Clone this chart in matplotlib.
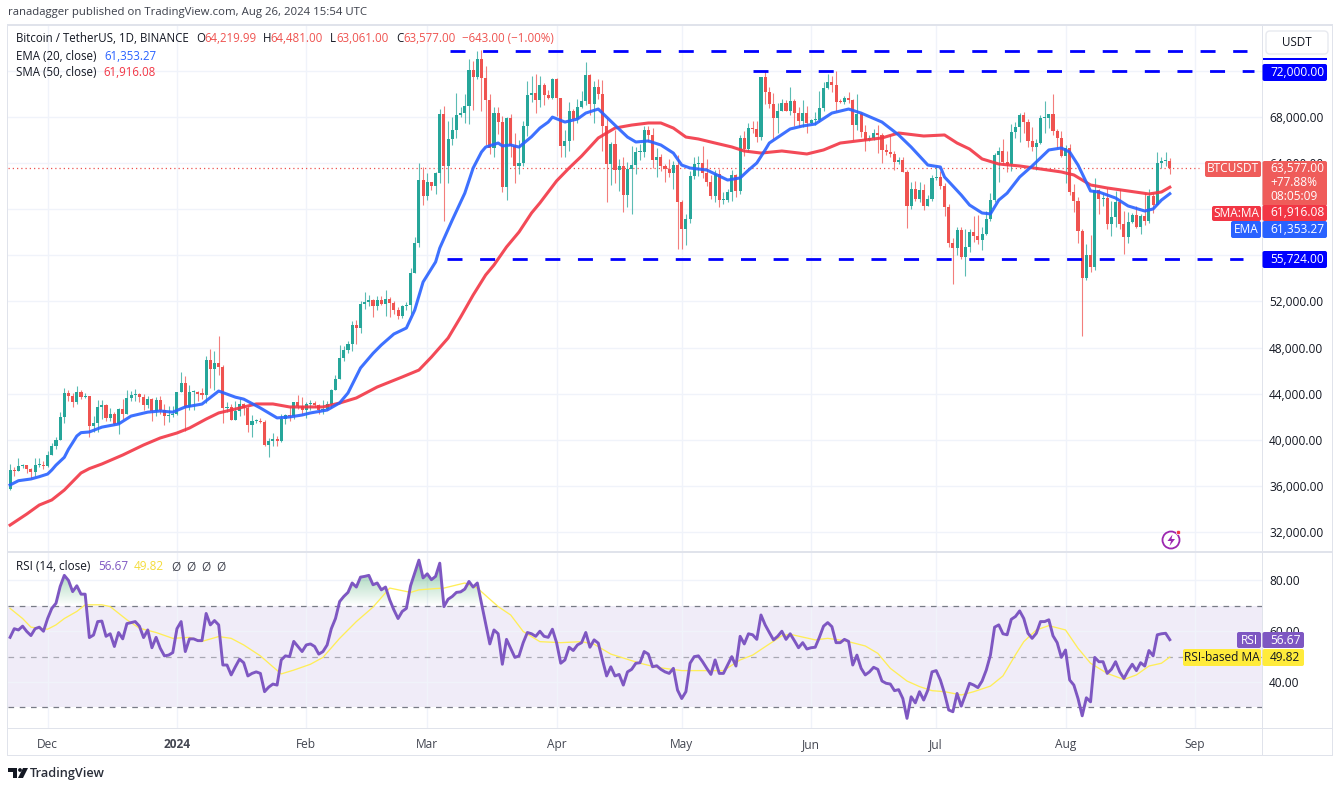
import numpy as np
import matplotlib
matplotlib.use("Agg")
import matplotlib.pyplot as plt
from matplotlib.patches import Rectangle, FancyBboxPatch, Polygon, Circle
from matplotlib.colors import to_rgb
from matplotlib.path import Path

opens = [35750,37410,37290,37720,37795,37480,37240,37830,37855,
37710,38680,39460,39970,41980,44080,43770,43290,44170,43720,43790,41240,41450,42880,43020,41930,42240,41360,42660,42270,43660,43860,43990,43730,43010,43580,42520,43440,42580,42070,42140,
42280,44180,44950,42850,44150,44160,43970,43930,46950,46110,46630,46340,42780,42840,41730,42510,43140,42770,41260,41620,41670,41550,39510,39880,40080,39930,41810,42120,42030,43300,42940,
42580,43080,43190,42990,42580,42660,43090,44340,45290,47130,47750,48290,49960,49700,51810,51930,52120,51640,52140,51780,52260,51850,51300,50740,51570,51730,54480,57040,62500,
61130,62390,62030,63130,68240,63780,66070,66850,68170,68360,68950,72100,71450,73070,71390,69500,65300,68390,67600,61930,67910,65490,63780,64040,67220,69960,70060,69450,70780,69900,69640,
71290,69650,65460,65960,68500,67830,68900,69360,71620,69150,70640,70010,67190,63920,65660,63420,63790,61280,63470,63820,64940,64940,66840,66410,64290,64500,63770,63460,63110,63840,
60670,58320,59120,62890,63890,64030,63160,62330,61190,63070,60790,60820,61480,62940,61580,66200,65230,67050,66940,66270,71450,70140,69120,67930,68530,69260,68500,69390,68360,67630,68360,
67490,67710,67750,68800,70560,71080,70790,69350,69300,69650,69510,67320,68240,66750,66000,66190,66640,66490,65170,64960,64830,64100,64260,63210,60280,61800,60860,61680,60320,60890,
62680,62770,62020,60200,57040,56630,58230,55860,56710,58040,57720,57340,57890,59200,60800,64720,65040,64090,63970,66700,67150,68160,67570,65930,65370,65780,67900,67900,68250,66780,66190,
64620,65350,61490,60700,58160,54020,56030,55030,61700,60880,60940,58710,59350,60600,58730,57560,58880,59500,58440,59450,59020,61150,60380,64040,64220,64220]

closes = [37410,37290,37720,37795,37480,37240,37830,37855,37710,
38680,39460,39970,41980,44080,43770,43290,44170,43720,43790,41240,41450,42880,43020,41930,42240,41360,42660,42270,43660,43860,43990,43730,43010,43580,42520,43440,42580,42070,42140,42280,
44180,44950,42850,44150,44160,43970,43930,46950,46110,46630,46340,42780,42840,41730,42510,43140,42770,41260,41620,41670,41550,39510,39880,40080,39930,41810,42120,42030,43300,42940,42580,
43080,43190,42990,42580,42660,43090,44340,45290,47130,47750,48290,49960,49700,51810,51930,52120,51640,52140,51780,52260,51850,51300,50740,51570,51730,54480,57040,62500,61130,
62390,62030,63130,68240,63780,66070,66850,68170,68360,68950,72100,71450,73070,71390,69500,65300,68390,67600,61930,67910,65490,63780,64040,67220,69960,70060,69450,70780,69900,69640,71290,
69650,65460,65960,68500,67830,68900,69360,71620,69150,70640,70010,67190,63920,65660,63420,63790,61280,63470,63820,64940,64940,66840,66410,64290,64500,63770,63460,63110,63840,60670,
58320,59120,62890,63890,64030,63160,62330,61190,63070,60790,60820,61480,62940,61580,66200,65230,67050,66940,66270,71450,70140,69120,67930,68530,69260,68500,69390,68360,67630,68360,67490,
67710,67750,68800,70560,71080,70790,69350,69300,69650,69510,67320,68240,66750,66000,66190,66640,66490,65170,64960,64830,64100,64260,63210,60280,61800,60860,61680,60320,60890,62680,
62770,62020,60200,57040,56630,58230,55860,56710,58040,57720,57340,57890,59200,60800,64720,65040,64090,63970,66700,67150,68160,67570,65930,65370,65780,67900,67900,68250,66780,66190,64620,
65350,61490,60700,58160,54020,56030,55030,61700,60880,60940,58710,59350,60600,58730,57560,58880,59500,58440,59450,59020,61150,60380,64040,64220,64220,63577]

highs = [37890,37670,38420,37890,37840,37590,38380,38450,38150,
38990,39700,40220,42420,44490,44300,44050,44700,44360,44040,43800,42100,43430,43420,43090,42730,42430,42770,43500,44280,44240,44390,44020,43940,43800,43600,43680,43790,43120,42900,42900,
44180,45880,45500,44730,44350,44230,44480,47250,47900,47700,48970,46500,43260,43080,43400,43570,43200,42930,42130,41820,41870,41680,40130,40550,40350,42220,42200,42840,43300,43880,43740,
43300,43420,43380,43120,43490,43400,44380,45610,48200,48170,48590,50330,50360,52040,52820,52570,52250,52480,52480,52980,52360,52040,51540,51700,51960,54900,57580,64000,63680,
63150,62400,63230,68700,69000,67640,67980,70080,68900,70000,73000,72900,73750,73780,72420,70040,68900,68900,68100,68030,68240,66650,65970,67620,71150,71560,71770,71600,71000,70350,71370,
71370,69680,66900,69300,68700,69600,70300,72800,71750,71170,71300,71250,67930,65840,66870,64370,64500,64130,65450,65400,65700,67230,67200,67070,65290,64800,63900,64370,64230,64730,
60780,59600,63320,64500,64650,65500,64400,63000,63400,63460,61500,61800,63450,63100,66450,66800,67450,67700,67690,71500,71970,70630,70050,69200,69560,69500,70600,69560,68900,69500,69000,
67850,68450,70300,71060,71750,71600,72000,69570,69850,70150,69560,69980,68450,67300,66450,66980,67300,66580,65700,66480,65060,64500,64550,63370,62400,62480,62400,62180,61200,63000,
63800,63300,62250,60500,57500,58500,58450,58250,58300,59460,59500,58500,59850,61400,64900,65400,66100,65100,67400,67600,68350,68480,67800,67100,66100,68200,69400,68300,70000,67000,66800,
65590,65700,62200,61100,58300,57000,57800,62700,61800,61450,61850,60700,61600,61800,59850,59800,59700,60250,59600,61400,61800,61400,64950,64500,65000,64481]

lows = [35630,36870,37250,37560,37150,36720,36880,37600,37500,
37620,38650,39190,39970,41420,43340,42820,43080,43580,43590,40220,40680,40670,41800,41660,41620,41260,40520,41800,42200,43330,43400,43290,42600,42770,41630,42090,42280,41300,41520,41960,
42180,44150,40750,42620,42620,43400,43570,43200,44500,44300,45600,41500,42440,41720,41720,42050,42190,40680,40280,41430,41500,39430,38500,39480,39500,39770,41400,41620,41800,42680,42270,
41880,42580,42880,42220,42260,42570,42780,44320,45240,46800,47540,47710,48300,49250,51310,51620,50620,51240,51700,50780,50620,50940,50500,50580,51280,50900,54440,56700,60400,
60780,61660,61320,62300,59000,62300,65550,66150,68000,67500,67400,68600,71300,68500,65600,64800,64500,66550,61500,60770,64530,62260,63060,63800,66380,69280,68360,68900,69050,69560,69560,
68060,64500,64500,65060,66000,67450,68750,69040,68200,67500,69550,65100,60660,62130,62300,61600,59770,60170,59600,63100,64250,64550,65800,63600,62800,63300,62400,62800,61800,56550,
56550,56900,58850,62600,62900,62700,62000,60900,60630,60200,60500,60630,60750,61100,61300,64600,65100,66600,65850,66050,69150,68800,66100,66600,68500,68500,68200,67200,67100,67130,66600,
67400,67300,67600,68560,70400,70150,68500,69200,69100,69200,66050,66900,66300,65050,65900,66000,64900,64050,64700,64530,63400,63900,63200,58400,60000,60700,60600,59900,60270,60680,
62500,61800,59400,56770,53500,56000,55720,54250,56300,57150,56950,56500,57770,59000,60630,62400,63900,63200,63300,66200,65800,66600,65400,65100,63400,65700,66650,67050,66450,65300,64500,
62300,61200,59800,57100,49000,53900,54550,54750,59550,60250,58300,57650,58500,58300,56150,57100,58800,58400,57850,58600,58800,59700,60350,63600,63800,63061]

ema_days = [0,2,5,7,9,10,11,13,14,15,16,17,19,22,26,29,33,36,39,42,46,50,54,56,60,64,67,70,72,76,79,81,84,87,89,92,95,97,99,102,103,106,109,111,113,114,117,118,120,122,125,127,129,130,133,136,138,141,143,145,148,150,153,156,159,161,163,167,170,172,175,177,179,181,182,187,190,193,197,201,204,209,213,216,220,223,224,228,230,233,235,237,239,242,245,249,252,254,256,259,261,265,268,272,274,276,278]
ema_vals = [36080,36450,36600,36800,37030,37380,37800,38480,39180,39750,40330,40620,40680,41100,41370,42060,42400,42500,42400,42850,43100,44230,43700,43530,42760,41900,41980,42150,42330,42580,43200,44060,46230,47500,48230,49180,49700,51260,53690,55430,56640,59070,61400,63580,64970,65400,65750,65500,65580,65400,66300,67050,67570,68000,67570,67830,68350,68700,68000,67300,66270,65840,65930,65580,64880,63840,63580,63410,62890,62540,62720,63400,64020,65150,65750,66970,67230,67400,68350,68700,68350,67570,66450,65400,63840,63670,62800,61240,60370,59680,59600,60800,61400,62800,63760,65150,65320,64970,63840,61590,61500,60980,60290,59850,60030,60800,61353]

sma_days = [0,4,7,10,13,17,19,22,27,32,36,40,43,47,50,54,59,63,67,71,75,79,83,88,94,98,101,105,108,111,114,116,119,122,125,127,131,134,137,141,145,149,153,156,159,162,165,169,173,176,180,185,191,195,199,203,209,213,219,224,227,230,233,237,242,247,252,255,259,263,268,273,276,278]
sma_vals = [32600,33560,34340,34780,35640,37120,37500,37900,38680,39550,40160,40590,41020,41800,42330,42670,43110,43110,42850,42850,42850,43190,43630,44580,45450,46050,47180,48830,50650,52560,54300,55170,56730,58030,59680,60550,62460,63580,64620,66190,67050,67310,67490,67490,67050,66270,66100,65750,65410,65060,64880,65060,64800,65150,65750,65930,66190,66620,66360,66450,65750,65230,64370,63930,63760,63500,63240,62980,62110,61850,61590,61330,61500,61916]

rsi_vals = [57.6,61,60.5,62,59.9,58.3,61,61.6,60,65,69,71,77.6,82,80,75.6,77.9,74.6,74.6,57.5,58.5,63.8,64,58,59,54,59.5,57,63,63.4,63.8,62,57.5,60.5,53.5,57.6,53.3,50.3,50.6,51.6,
61,63.8,52,57,57,56.3,56.3,67,62.5,64.2,62.5,46.7,46.7,42.8,46,49,47.6,42.4,43.4,44,43.4,36.2,38,39.2,38.8,48.7,50.3,50,56,54,52,54.6,55,54,51,52,54.6,61,65,71.7,73.7,75.3,79,77.4,81.3,81.6,82,78.3,79,76.3,77.4,72.4,68.4,65,67.8,69,77.9,83,88,81,82.6,80.3,81.6,86.8,
69.7,72.6,73.7,75.3,75.5,76.6,79.6,77.4,79,71,63,55,60.5,59,47,56.8,53.3,49.7,50.3,55.5,59.5,59,58,60,58,57.6,60.8,55.5,47.4,48.7,53.7,52.4,54.6,55.5,59.5,53.7,56.6,55.3,48.7,42.4,46,42.4,43,38.8,44,45,47.4,47.6,52,51,46,46.4,45,44,43.4,45.4,36.8,33.5,36.2,47.4,50,50.3,48,45.4,43,48.7,43.4,43.4,46.7,50,46.3,58,55,59,58.6,56.8,66.4,62.5,59.5,56.6,58,60,56.8,59,56.3,53.5,55.5,53,53.5,53.7,57.6,62,63.4,61.8,55.5,55.5,56.8,56,46.7,50.6,45.4,42.8,44,
45.8,45,40.4,39.5,39.2,36.6,37,33.5,25.7,34.2,31.8,36.2,32.9,36.8,44,44.5,40.8,35.5,29,28.3,35.5,30.5,34.9,39.5,38.8,37.8,40.4,44.7,50.6,61.6,62.5,59,58.6,64.7,65.8,68,65,59.2,57.2,59.2,63.8,63.8,64.5,58.2,55.5,49.7,52.6,40.8,38.8,33.5,26.7,33.8,32.2,49.7,48,48,43.4,45,48,44,41.4,44.5,47,44.5,47.6,46.3,52.4,50.3,58.6,59,59.2,56.67]

rsi_ma_days = [0,3,5,9,11,13,16,18,22,24,28,31,35,39,43,46,50,53,56,60,63,65,68,72,75,79,83,87,91,96,98,102,104,109,112,117,120,123,127,132,137,140,144,151,155,161,166,171,175,178,181,185,187,193,196,200,205,208,211,215,218,221,224,228,231,235,238,241,243,246,249,253,256,259,263,267,270,273,276,278]
rsi_ma_vals = [69,65,61.6,60.8,62.5,65,67.8,70.4,70.4,69.7,64.5,61.2,59.5,57.2,57.6,56,57.9,57.2,54.6,50.3,46,43.2,44.7,47,49.7,57.2,63.8,69.5,77,75.3,76.3,76.8,77,79,77,69.7,66.4,59.9,55.9,55.5,55.9,54.9,51,47.4,45.8,44.5,44.5,44.5,48.7,50.6,53.9,58.2,58.8,56.6,57.2,56.3,54.2,51.3,45.4,40.4,38.2,36.6,36.2,34.9,36.2,38.4,42.4,50.7,55.9,60.5,62.2,60.5,53.3,47.4,43.4,41,42.8,46.3,47.4,49.82]

price_ticks = [32000,36000,40000,44000,48000,52000,56000,60000,64000,68000,72000]
price_hidden = [60000,72000]
rsi_ticks = [40,60,80]
month_days = [9,40,71,100,131,161,192,222,253,284]
month_labels = ["Dec","2024","Feb","Mar","Apr","May","Jun","Jul","Aug","Sep"]
resistance_upper = 73720
resistance = 72000
support = 55724
last_close = 63577

UP, DOWN = "#26A69A", "#EF5350"
BLUE, RED = "#2962FF", "#F23645"
PURPLE, YEL = "#7E57C2", "#FFEB3B"
GRID = "#F0F3FA"
FRAME = "#E0E3EB"
TXT = "#131722"
plt.rcParams["font.family"] = ["Open Sans", "DejaVu Sans"]
W, H = 1339, 785
fig = plt.figure(figsize=(W/100, H/100), dpi=100, facecolor="white")

def axes_px(l, t, r, b, **kw):
    return fig.add_axes([l/W, 1-b/H, (r-l)/W, (b-t)/H], **kw)

ax = axes_px(8, 26, 1262, 551)
ar = axes_px(8, 552, 1262, 728)
xmin, xmax = -0.5, 300.1
for a in (ax, ar):
    a.set_xlim(xmin, xmax)
    for s in a.spines.values():
        s.set_visible(False)
    a.set_axisbelow(True)
    a.grid(True, color=GRID, lw=1)
    a.yaxis.tick_right()
    a.tick_params(length=0, labelsize=8.6, labelcolor=TXT, pad=5.2)
    a.set_xticks(month_days)
ax.set_ylim(30351, 75905)
ar.set_ylim(21.9, 91.2)
ax.set_yticks(price_ticks)
ax.set_yticklabels(["" if p in price_hidden else f"{p:,.2f}" for p in price_ticks])
ax.tick_params(axis="x", labelbottom=False)
ar.set_yticks(rsi_ticks)
ar.set_yticklabels([f"{p:.2f}" for p in rsi_ticks])
ar.set_xticklabels(month_labels)
ar.tick_params(axis="x", pad=7, labelcolor="#434651")
ar.get_xticklabels()[1].set_fontweight("bold")

# candles
days = np.arange(len(closes))
o, h, l, c = map(np.array, (opens, highs, lows, closes))
cols = np.where(c >= o, UP, DOWN)
ax.vlines(days, l, h, colors=cols, lw=0.8, alpha=0.75, zorder=3)
body = np.maximum(np.abs(c - o), 90)
ax.bar(days, body, bottom=np.minimum(o, c), width=0.74, color=cols, lw=0, zorder=4)

ax.plot(sma_days, sma_vals, color=RED, lw=2.2, zorder=5, solid_joinstyle="round", alpha=0.9)
ax.plot(ema_days, ema_vals, color=BLUE, lw=2.2, zorder=6, solid_joinstyle="round", alpha=0.9)
ax.plot([xmin, 285], [last_close]*2, color=DOWN, lw=0.9, ls=(0, (1, 2.4)), zorder=2)

dash = (0, (5.4, 6.34))
ax.plot([105.5, 296.4], [resistance_upper]*2, color="#0000FF", lw=2, ls=dash, dash_capstyle="butt", zorder=7)
ax.plot([178.0, 298.3], [resistance]*2, color="#0000FF", lw=2, ls=dash, dash_capstyle="butt", zorder=7)
ax.plot([104.8, 295.5], [support]*2, color="#0000FF", lw=2, ls=dash, dash_capstyle="butt", zorder=7)

# RSI
ar.axhspan(30, 70, color=PURPLE, alpha=0.11, lw=0, zorder=0)
for lvl, al in ((70, 1), (50, 0.6), (30, 1)):
    ar.axhline(lvl, color="#787B86", lw=0.9, ls=(0, (4.5, 4.5)), alpha=al, zorder=1)
rd = np.arange(len(rsi_vals))
rsi = np.array(rsi_vals)

def grad(lo, hi, col, top):
    n = 64
    img = np.ones((n, 2, 4))
    img[..., :3] = to_rgb(col)
    ramp = np.linspace(1, 0, n) if top else np.linspace(0, 1, n)
    img[..., 3] = ramp[:, None] * 0.5
    im = ar.imshow(img, extent=(xmin, xmax, lo, hi), origin="upper", aspect="auto", zorder=2)
    if top:
        poly = ar.fill_between(rd, 70, rsi, where=rsi >= 70, interpolate=True, color="none")
    else:
        poly = ar.fill_between(rd, 30, rsi, where=rsi <= 30, interpolate=True, color="none")
    im.set_clip_path(Path.make_compound_path(*poly.get_paths()), transform=ar.transData)

grad(70, 86, "#2E9E5B", True)
grad(24, 30, "#EF5350", False)
ar.set_xlim(xmin, xmax)
ar.set_ylim(21.9, 91.2)
ar.plot(rsi_ma_days, rsi_ma_vals, color="#FFEE58", lw=0.95, zorder=3)
ar.plot(rd, rsi, color=PURPLE, lw=2.1, zorder=4, solid_joinstyle="round")

# overlay in pixel coordinates for frame, labels and pills
ov = fig.add_axes([0, 0, 1, 1], zorder=20)
ov.set_xlim(0, W)
ov.set_ylim(H, 0)
ov.axis("off")
ov.patch.set_alpha(0)

def rect(x0, y0, x1, y1, fc, z=1):
    ov.add_patch(Rectangle((x0, y0), x1-x0, y1-y0, fc=fc, ec="none", lw=0, zorder=z))

def pill(x0, y0, x1, y1, fc, z=3):
    ov.add_patch(FancyBboxPatch((x0+1.5, y0+1.5), x1-x0-3, y1-y0-3,
                 boxstyle="round,pad=1.5,rounding_size=2", fc=fc, ec="none", lw=0, zorder=z))

def t(x, y, s, col=TXT, size=8.6, ha="left", weight="normal", z=5):
    return ov.text(x, y, s, color=col, fontsize=size, ha=ha, va="center", fontweight=weight, zorder=z)

rect(7, 24, 1333, 25.5, FRAME)
rect(7, 24, 8, 756, FRAME)
rect(1331.5, 24, 1333, 756, FRAME)
rect(7, 754.5, 1333, 756, FRAME)
rect(7, 550.5, 1333, 552.5, FRAME)
rect(7, 727.7, 1333, 729, FRAME)
rect(1261.5, 25, 1262.7, 755, FRAME)

t(8, 13, "ranadagger published on TradingView.com, Aug 26, 2024 15:54 UTC", "#3b3f4a", 8.2)
t(16, 39, "Bitcoin / TetherUS, 1D, BINANCE", TXT, 8.3)
for x, xv, a_, b_ in ((196, 204, "O", "64,219.99"), (263, 270, "H", "64,481.00"),
                      (330, 336, "L", "63,061.00"), (396, 403, "C", "63,577.00")):
    t(x, 39, a_, TXT, 8.3)
    t(xv, 39, b_, DOWN, 8.3)
t(462, 39, "\u2212643.00 (\u22121.00%)", DOWN, 8.3)
t(16, 56, "EMA (20, close)", TXT, 8.3)
t(104, 56, "61,353.27", BLUE, 8.3)
t(16, 73, "SMA (50, close)", TXT, 8.3)
t(103, 73, "61,916.08", RED, 8.3)

ov.add_patch(FancyBboxPatch((1268, 33), 58, 19, boxstyle="round,pad=2,rounding_size=4",
                            fc="white", ec="#E8EAF0", lw=1, zorder=3))
t(1297, 42, "USDT", TXT, 8.4, ha="center")
rect(1262.5, 58, 1327, 60, "#0000FF", z=3)

def vt(y, s, col="white", x=1270, size=8.6, z=6):
    t(x, y, s, col, size, z=z)

pill(1262.5, 64, 1327, 81, "#0000FF")
vt(72, "72,000.00")
pill(1262.5, 251, 1327, 268, "#0000FF")
vt(259.5, "55,724.00")
pill(1205, 161, 1261, 177, "#EF5C5A")
t(1233, 169, "BTCUSDT", "white", 8.6, ha="center", z=6)
pill(1262.5, 161, 1327, 206, "#EF5C5A")
vt(169, "63,577.00")
vt(182, "+77.88%")
vt(196, "08:05:09")
pill(1212, 206, 1261, 221, RED)
t(1236.5, 213.5, "SMA:MA", "white", 8.6, ha="center", z=6)
pill(1262.5, 205, 1327, 221, RED)
vt(213, "61,916.08")
pill(1231, 221, 1261, 238, BLUE)
t(1246, 229.5, "EMA", "white", 8.6, ha="center", z=6)
pill(1262.5, 221, 1327, 238, BLUE)
vt(229.5, "61,353.27")

t(16, 567, "RSI (14, close)", TXT, 8.5)
t(98, 567, "56.67", PURPLE, 8.5)
t(134, 567, "49.82", "#F4DC3A", 8.5)
for x in (171, 186, 201, 216):
    t(x, 567, "\u00d8", "#434651", 8.5)
pill(1237, 632, 1261, 648, PURPLE)
t(1249, 640, "RSI", "white", 8.6, ha="center", z=6)
pill(1262.5, 632, 1304, 648, PURPLE)
t(1270, 640, "56.67", "white", 8.6, z=6)
pill(1183, 649, 1261, 666, YEL)
t(1222, 657.5, "RSI-based MA", TXT, 8.6, ha="center", z=6)
pill(1262.5, 649, 1304, 666, YEL)
t(1270, 657.5, "49.82", TXT, 8.6, z=6)

# publish icon
ov.add_patch(Circle((1171, 540), 8.5, fc="white", ec="#9C27B0", lw=1.3, zorder=4))
ov.add_patch(Polygon([(1172.5, 534.5), (1167.5, 541), (1171, 541), (1169.5, 546), (1175, 539), (1171.5, 539)],
                     fc="#9C27B0", ec="none", zorder=5))
ov.add_patch(Circle((1178.5, 532.5), 2.2, fc="#F23645", ec="white", lw=0.5, zorder=6))

# TradingView logo
ov.add_patch(Polygon([(8, 768), (17, 768), (17, 778), (12.5, 778), (12.5, 772), (8, 772)], fc=TXT, ec="none"))
ov.add_patch(Circle((20, 770), 1.9, fc=TXT, ec="none"))
ov.add_patch(Polygon([(23, 768), (28, 768), (23, 778), (18, 778)], fc=TXT, ec="none"))
t(30, 773, "TradingView", "#2a2e39", 9.2, weight="semibold")

fig.savefig("out.png", dpi=100, facecolor="white")
